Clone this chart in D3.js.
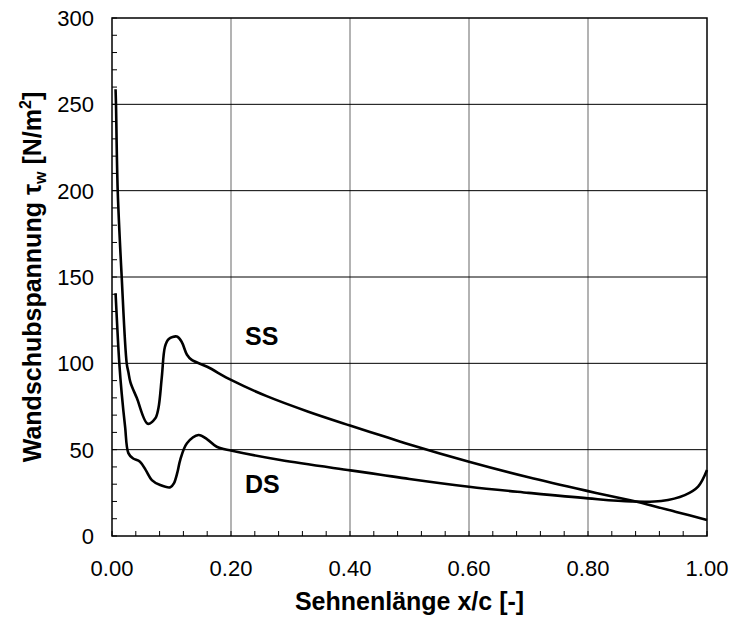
<!DOCTYPE html>
<html><head><meta charset="utf-8">
<script src="https://cdn.jsdelivr.net/npm/d3@7"></script>
<style>body{margin:0;background:#fff;} text{font-family:Arial,"Liberation Sans",sans-serif;}</style>
</head><body>
<svg id="c" width="731" height="619"></svg>
<script>
const ssX = [0.006,0.0067,0.0096,0.0163,0.0247,0.0275,0.031,0.0416,0.060,0.0725,0.078,0.0837,0.089,0.095,0.109,0.117,0.126,0.134,0.160,0.200,0.260,0.330,0.400,0.450,0.500,0.600,0.700,0.800,0.873,0.900,0.950,1.000];
const ssY = [258.7,250,200,150,100,95,89,80,65,68,74,92,109.6,114,115.5,112.5,105,102,98,90.4,81,72,64,58.5,53,43,34,26,20.5,18.3,13.8,9.3];
const dsX = [0.006,0.0123,0.0163,0.022,0.0275,0.035,0.047,0.057,0.067,0.081,0.098,0.104,0.110,0.1146,0.126,0.1454,0.160,0.176,0.2017,0.283,0.401,0.4516,0.500,0.600,0.700,0.800,0.873,0.923,0.9627,0.985,1.000];
const dsY = [140.6,100,82.6,63.3,48,45,43,38,32.4,29.5,28.2,30.5,37,44,53.7,58.5,56,51.7,49.4,44,38,35.5,33,28.5,25,21.8,20,20.3,23.7,28.6,38.2];
const xTicks = [0,0.2,0.4,0.6,0.8,1.0];
const yTicks = [0,50,100,150,200,250,300];
const xTitle = "Sehnenlänge x/c [-]";

const svg = d3.select("#c");
const L=112,R=707,T=18,B=536;
const x = d3.scaleLinear().domain([0,1]).range([L,R]);
const y = d3.scaleLinear().domain([0,300]).range([B,T]);

// grid
svg.append("g").selectAll("line").data(xTicks.slice(1,-1)).join("line")
  .attr("x1",d=>x(d)).attr("x2",d=>x(d)).attr("y1",T).attr("y2",B)
  .attr("stroke","#808080").attr("stroke-width",1.2);
svg.append("g").selectAll("line").data(yTicks.slice(1,-1)).join("line")
  .attr("x1",L).attr("x2",R).attr("y1",d=>y(d)).attr("y2",d=>y(d))
  .attr("stroke","#000").attr("stroke-width",1);

// minor ticks
svg.append("g").selectAll("line").data(d3.range(0,301,10)).join("line")
  .attr("x1",L).attr("x2",L+5).attr("y1",d=>y(d)).attr("y2",d=>y(d))
  .attr("stroke","#000").attr("stroke-width",1);
svg.append("g").selectAll("line").data(d3.range(0,26).map(i=>i*0.04)).join("line")
  .attr("x1",d=>x(d)).attr("x2",d=>x(d)).attr("y1",B).attr("y2",B-5)
  .attr("stroke","#000").attr("stroke-width",1);

// frame
svg.append("rect").attr("x",L).attr("y",T).attr("width",R-L).attr("height",B-T)
  .attr("fill","none").attr("stroke","#000").attr("stroke-width",1.5);

// tick labels
svg.append("g").selectAll("text").data(yTicks).join("text")
  .attr("x",L-18).attr("y",d=>y(d)).attr("dy","0.36em").attr("text-anchor","end")
  .attr("font-size",22).text(d=>d);
svg.append("g").selectAll("text").data(xTicks).join("text")
  .attr("x",d=>x(d)).attr("y",576).attr("text-anchor","middle")
  .attr("font-size",22).text(d=>d.toFixed(2));

// curves
const line = d3.line().x(d=>x(d[0])).y(d=>y(d[1])).curve(d3.curveCatmullRom.alpha(0.5));
svg.append("path").attr("d",line(ssX.map((v,i)=>[v,ssY[i]])))
  .attr("fill","none").attr("stroke","#000").attr("stroke-width",2.6);
svg.append("path").attr("d",line(dsX.map((v,i)=>[v,dsY[i]])))
  .attr("fill","none").attr("stroke","#000").attr("stroke-width",2.6);

// labels
svg.append("text").attr("x",245).attr("y",345).attr("font-size",25).attr("font-weight","bold").text("SS");
svg.append("text").attr("x",245).attr("y",493).attr("font-size",25).attr("font-weight","bold").text("DS");

// axis titles
svg.append("text").attr("x",(L+R)/2).attr("y",610).attr("text-anchor","middle")
  .attr("font-size",25).attr("font-weight","bold").text(xTitle);
const yt = svg.append("text").attr("transform",`translate(41,${(T+B)/2}) rotate(-90)`)
  .attr("text-anchor","middle").attr("font-size",25).attr("font-weight","bold");
yt.append("tspan").text("Wandschubspannung τ");
yt.append("tspan").attr("font-size",16).attr("dy",5).text("w");
yt.append("tspan").attr("dy",-5).text(" [N/m");
yt.append("tspan").attr("font-size",16).attr("dy",-10).text("2");
yt.append("tspan").attr("dy",10).text("]");
</script>
</body></html>
